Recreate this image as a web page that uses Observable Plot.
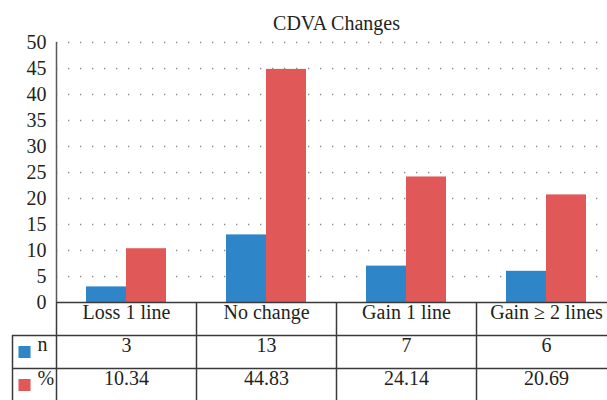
<!DOCTYPE html>
<html>
<head>
<meta charset="utf-8">
<script src="https://cdn.jsdelivr.net/npm/d3@7"></script>
<script src="https://cdn.jsdelivr.net/npm/@observablehq/plot@0.6"></script>
<style>
  html, body { margin: 0; padding: 0; background: #fff; }
  #chart svg { display: block; }
</style>
</head>
<body>
<div id="chart"></div>
<script>
const title = "CDVA Changes";
const categories = ["Loss 1 line", "No change", "Gain 1 line", "Gain \u2265 2 lines"];
const seriesNames = ["n", "%"];
const nValues = [3, 13, 7, 6];
const pctValues = [10.34, 44.83, 24.14, 20.69];
const pctLabels = ["10.34", "44.83", "24.14", "20.69"];
const yTicks = [0, 5, 10, 15, 20, 25, 30, 35, 40, 45, 50];

const blue = "#2e86c8";
const red = "#e05857";
const ink = "#231f20";
const border = "#3a3a3a";
const font = "Liberation Serif";

const nData = categories.map((c, i) => ({cat: c, value: nValues[i], label: String(nValues[i])}));
const pData = categories.map((c, i) => ({cat: c, value: pctValues[i], label: pctLabels[i]}));
const legend = [{name: seriesNames[0], color: blue, row: 1}, {name: seriesNames[1], color: red, row: 2}];

const rowH = 33;
const fs = 20;
const chart = Plot.plot({
  width: 607,
  height: 400,
  marginTop: 42,
  marginBottom: 98,
  marginLeft: 56,
  marginRight: 0,
  style: {fontFamily: font, fontSize: fs + "px", color: ink, background: "white"},
  x: {domain: categories, range: [56, 616], padding: 0, axis: null},
  y: {domain: [0, 50], ticks: yTicks, tickSize: 0, tickPadding: 10, label: null},
  marks: [
    Plot.ruleY(yTicks.filter(t => t > 0), {stroke: "#8a8a8a", strokeWidth: 1.3, strokeDasharray: "1.3,10.7"}),
    Plot.barY(nData, {x: "cat", y: "value", fill: blue, insetLeft: 30, insetRight: 70}),
    Plot.barY(pData, {x: "cat", y: "value", fill: red, insetLeft: 70, insetRight: 30}),
    Plot.ruleX(categories.slice(0, 1), {x: d => d, dx: -70, stroke: "#5a5a5a", strokeWidth: 1.5}),
    Plot.ruleY([0], {stroke: border, strokeWidth: 1.5}),
    Plot.ruleY([0], {dy: rowH, stroke: border, strokeWidth: 1.5, insetLeft: -44}),
    Plot.ruleY([0], {dy: 2 * rowH, stroke: border, strokeWidth: 1.5, insetLeft: -44}),
    Plot.ruleX(categories, {x: d => d, dx: -70, stroke: border, strokeWidth: 1.5, insetTop: 260, insetBottom: -98}),
    Plot.ruleX(categories.slice(0, 1), {x: d => d, dx: -114, stroke: border, strokeWidth: 1.5, insetTop: 260 + rowH, insetBottom: -98}),
    Plot.text(categories, {x: d => d, text: d => d, frameAnchor: "bottom", dy: rowH / 2, fill: ink, fontFamily: font, fontSize: fs}),
    Plot.text(nData, {x: "cat", text: "label", frameAnchor: "bottom", dy: rowH * 1.5, fill: ink, fontFamily: font, fontSize: fs}),
    Plot.text(pData, {x: "cat", text: "label", frameAnchor: "bottom", dy: rowH * 2.5, fill: ink, fontFamily: font, fontSize: fs}),
    Plot.text(legend, {x: () => categories[0], text: "name", frameAnchor: "bottom", dx: -89, textAnchor: "start", fill: ink, filter: d => d.row === 1, dy: rowH * 1.5 - 1, fontFamily: font, fontSize: fs}),
    Plot.text(legend, {x: () => categories[0], text: "name", frameAnchor: "bottom", dx: -89, textAnchor: "start", fill: ink, filter: d => d.row === 2, dy: rowH * 2.5, fontFamily: font, fontSize: fs}),
    Plot.dot(legend, {x: () => categories[0], frameAnchor: "bottom", dx: -102, dy: rowH * 1.5, symbol: "square", r: 6.8, fill: "color", stroke: null, filter: d => d.row === 1}),
    Plot.dot(legend, {x: () => categories[0], frameAnchor: "bottom", dx: -102, dy: rowH * 2.5, symbol: "square", r: 6.8, fill: "color", stroke: null, filter: d => d.row === 2}),
    Plot.text([title], {text: d => d, frameAnchor: "top", dx: 4.5, dy: -27, fill: ink, fontFamily: font, fontSize: fs})
  ]
});
document.getElementById("chart").appendChild(chart);
</script>
</body>
</html>
